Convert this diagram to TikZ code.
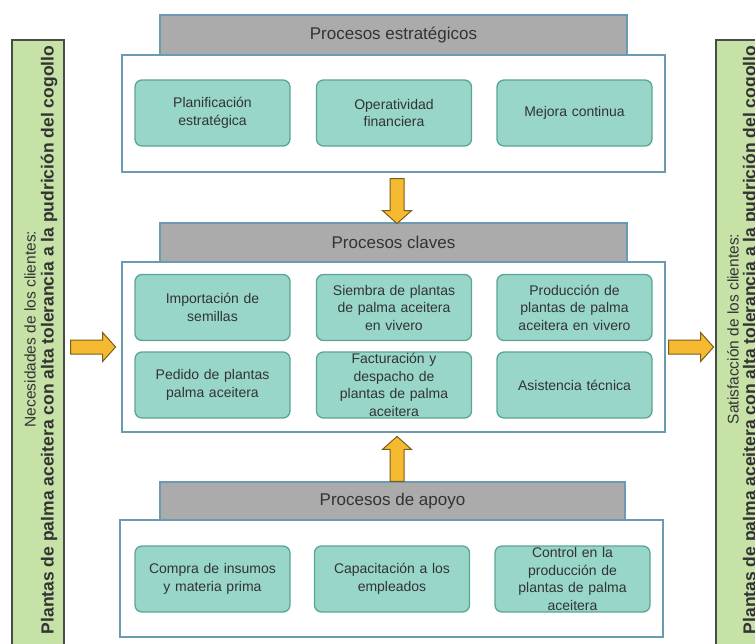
\documentclass[tikz,border=0pt]{standalone}
\usepackage{fontspec}
\setmainfont{Liberation Sans}
\usetikzlibrary{calc}
\definecolor{txt}{HTML}{333333}
\definecolor{hdrgray}{HTML}{ABABAB}
\definecolor{hdrline}{HTML}{6C9AB3}
\definecolor{procfill}{HTML}{97D6C9}
\definecolor{procline}{HTML}{5BA596}
\definecolor{sidefill}{HTML}{C6E2A6}
\definecolor{sideline}{HTML}{4A4A4A}
\definecolor{arrfill}{HTML}{F6BA32}
\definecolor{arrline}{HTML}{7A5E1A}
\tikzset{
  header/.style={draw=hdrline, fill=hdrgray, line width=1.2pt, minimum width=467pt, minimum height=40pt, inner sep=0pt, font=\fontsize{17}{20}\selectfont, text=txt},
  panel/.style={draw=hdrline, fill=white, line width=1.2pt, minimum width=543pt, inner sep=0pt},
  proc/.style={draw=procline, fill=procfill, rounded corners=7pt, line width=1.3pt, minimum width=155pt, minimum height=66pt, text width=152pt, align=center, inner sep=0pt, font=\fontsize{14}{17.5}\selectfont, text=txt},
  sidebar/.style={draw=sideline, fill=sidefill, line width=1.2pt, minimum width=52pt, minimum height=610pt, inner sep=0pt},
  sidetext/.style={rotate=90, inner sep=0pt, text=txt, font=\fontsize{15.5}{18}\selectfont},
  sidebold/.style={rotate=90, inner sep=0pt, text=txt, font=\fontsize{17.5}{20}\selectfont\bfseries},
  blockarrow/.pic={\draw[fill=arrfill, draw=arrline, line width=1pt, line join=miter]
      (0,-7) -- (32,-7) -- (32,-14.5) -- (45,0) -- (32,14.5) -- (32,7) -- (0,7) -- cycle;}
}
\begin{document}
\begin{tikzpicture}[x=1pt,y=-1pt]
\useasboundingbox (0,0) rectangle (755,643);
\clip (0,0) rectangle (755,643);
\fill[white] (0,0) rectangle (755,643);

% side bars
\node[sidebar] (lbar) at (38,345) {};
\node[sidebar] (rbar) at (742,345) {};
\node[sidetext] (lnorm) at (30,329) {Necesidades de los clientes:};
\node[sidebold] (lbold) at (49,340) {Plantas de palma aceitera con alta tolerancia a la pudrición del cogollo};
\node[sidetext] (rnorm) at (733,329) {Satisfacción de los clientes:};
\node[sidebold] (rbold) at (751,340) {Plantas de palma aceitera con alta tolerancia a la pudrición del cogollo};

% strategic
\node[header] (h1) at (393.5,35) {Procesos estratégicos};
\node[panel, minimum height=117pt] (p1) at (393.5,113.5) {};
\node[proc] (s1) at (212.5,113) {Planificación\\estratégica};
\node[proc] (s2) at (394,113) {Operatividad\\financiera};
\node[proc] (s3) at (574.5,113) {Mejora continua};

% key
\node[header, minimum height=39pt] (h2) at (393.5,242.5) {Procesos claves};
\node[panel, minimum height=170pt] (p2) at (393.5,347) {};
\node[proc] (k1) at (212.5,307.5) {Importación de\\semillas};
\node[proc] (k2) at (394,307.5) {Siembra de plantas\\de palma aceitera\\en vivero};
\node[proc] (k3) at (574.5,307.5) {Producción de\\plantas de palma\\aceitera en vivero};
\node[proc] (k4) at (212.5,385) {Pedido de plantas\\palma aceitera};
\node[proc] (k5) at (394,385) {Facturación y\\despacho de\\plantas de palma\\aceitera};
\node[proc] (k6) at (574.5,385) {Asistencia técnica};

% support
\node[header, minimum width=465pt, minimum height=38pt] (h3) at (392.5,501) {Procesos de apoyo};
\node[panel, minimum height=117pt] (p3) at (391.5,578.5) {};
\node[proc] (a1) at (212.5,579) {Compra de insumos\\y materia prima};
\node[proc] (a2) at (392,579) {Capacitación a los\\empleados};
\node[proc] (a3) at (572.5,579) {Control en la\\producción de\\plantas de palma\\aceitera};

% arrows
\coordinate (dA) at ($(p1.south)+(3.5,6)$);
\pic[rotate=-90] at (dA) {blockarrow};
\coordinate (uA) at ($(h3.north)+(4.5,0)$);
\pic[rotate=90] at (uA) {blockarrow};
\coordinate (lA) at ($(lbar.east |- p2.west)+(6,0)$);
\pic at (lA) {blockarrow};
\coordinate (rA) at ($(p2.east)+(3,0)$);
\pic at (rA) {blockarrow};
\end{tikzpicture}
\end{document}
